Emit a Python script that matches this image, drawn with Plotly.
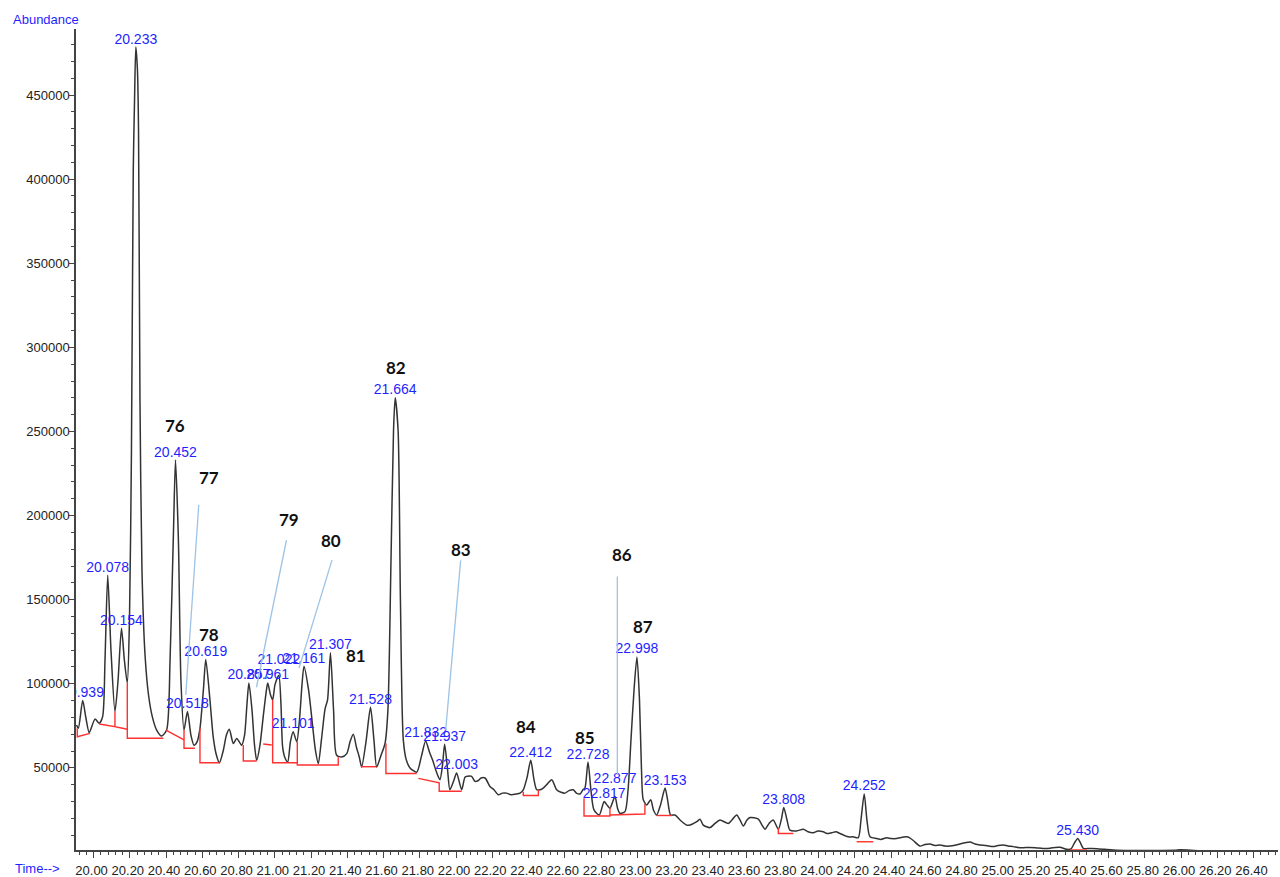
import plotly.graph_objects as go

# ---------------- data ----------------
time_min = [19.906, 19.916, 19.940, 19.958, 19.976, 20.008, 20.031, 20.050, 20.063, 20.078,
            20.096, 20.118, 20.135, 20.154, 20.170, 20.186, 20.198, 20.209, 20.219, 20.226,
            20.233, 20.242, 20.248, 20.256, 20.267, 20.284, 20.303, 20.325, 20.348, 20.376,
            20.403, 20.422, 20.441, 20.452, 20.468, 20.482, 20.499, 20.518, 20.537, 20.554,
            20.571, 20.587, 20.606, 20.619, 20.642, 20.660, 20.678, 20.694, 20.716, 20.733,
            20.749, 20.771, 20.790, 20.817, 20.833, 20.846, 20.857, 20.874, 20.888, 20.900,
            20.918, 20.937, 20.954, 20.961, 20.976, 20.988, 21.001, 21.022, 21.034, 21.043,
            21.056, 21.071, 21.086, 21.101, 21.121, 21.136, 21.150, 21.161, 21.186, 21.209,
            21.224, 21.240, 21.257, 21.277, 21.291, 21.307, 21.324, 21.341, 21.369, 21.397,
            21.415, 21.433, 21.451, 21.466, 21.479, 21.503, 21.528, 21.547, 21.562, 21.586,
            21.608, 21.624, 21.641, 21.655, 21.664, 21.680, 21.693, 21.709, 21.726, 21.746,
            21.783, 21.809, 21.832, 21.853, 21.871, 21.892, 21.911, 21.925, 21.937, 21.953,
            21.966, 21.989, 22.003, 22.031, 22.049, 22.062, 22.086, 22.104, 22.123, 22.138,
            22.160, 22.187, 22.209, 22.233, 22.256, 22.279, 22.303, 22.335, 22.353, 22.371,
            22.391, 22.412, 22.430, 22.445, 22.463, 22.481, 22.504, 22.528, 22.555, 22.579,
            22.601, 22.623, 22.647, 22.664, 22.684, 22.700, 22.711, 22.728, 22.744, 22.761,
            22.790, 22.808, 22.817, 22.836, 22.849, 22.863, 22.877, 22.891, 22.904, 22.932,
            22.949, 22.965, 22.982, 22.998, 23.012, 23.023, 23.033, 23.052, 23.074, 23.089,
            23.107, 23.128, 23.153, 23.167, 23.184, 23.208, 23.236, 23.272, 23.291, 23.328,
            23.346, 23.364, 23.401, 23.429, 23.456, 23.502, 23.522, 23.548, 23.567, 23.585,
            23.605, 23.622, 23.668, 23.688, 23.705, 23.727, 23.750, 23.778, 23.796, 23.808,
            23.826, 23.842, 23.879, 23.916, 23.942, 23.971, 23.997, 24.026, 24.047, 24.073,
            24.096, 24.118, 24.140, 24.164, 24.190, 24.219, 24.234, 24.252, 24.267, 24.284,
            24.321, 24.345, 24.376, 24.400, 24.431, 24.449, 24.486, 24.501, 24.521, 24.560,
            24.587, 24.615, 24.642, 24.670, 24.698, 24.725, 24.753, 24.780, 24.808, 24.836,
            24.863, 24.891, 24.924, 24.964, 24.990, 25.019, 25.045, 25.075, 25.100, 25.130,
            25.167, 25.204, 25.238, 25.277, 25.305, 25.332, 25.369, 25.393, 25.412, 25.430,
            25.445, 25.461, 25.498, 25.535, 25.580, 25.626, 25.718, 25.829, 25.967, 25.994,
            26.105, 26.270, 26.436, 26.535]

abundance = [75500, 73500, 90000, 79500, 71000, 79000, 76500, 80500, 114000, 164500,
             120000, 83500, 102000, 133000, 114000, 100500, 138000, 239000, 405500, 447000,
             478500, 465000, 429000, 268500, 167500, 117000, 93500, 80000, 72500, 69000,
             72500, 114000, 191500, 233000, 185500, 102000, 72500, 83500, 69500, 63500,
             65500, 73500, 96500, 114500, 90500, 68500, 57500, 53000, 60500, 69500,
             73000, 64500, 67500, 63500, 69500, 87500, 100500, 84500, 63500, 54500,
             63500, 81500, 96500, 100500, 93500, 90500, 99500, 105000, 87500, 62500,
             56000, 53500, 65500, 71500, 65500, 78500, 99500, 110500, 96500, 74500,
             60500, 52500, 66500, 85000, 90500, 118500, 84500, 57500, 56500, 58500,
             65500, 70000, 62000, 56500, 50500, 65500, 86000, 66500, 50500, 57500,
             64500, 84500, 173500, 251000, 270000, 251000, 150000, 66500, 54500, 50000,
             47500, 57000, 66000, 59500, 54500, 47500, 43000, 51500, 64000, 49000,
             37000, 43000, 47000, 37000, 44500, 45000, 45000, 42000, 42500, 44000,
             44000, 39000, 37000, 34000, 35000, 35000, 34000, 34500, 35000, 37000,
             44000, 54500, 43000, 37000, 37000, 38000, 40500, 43000, 37000, 35500,
             35000, 36500, 37000, 35000, 34500, 37000, 38000, 53500, 37000, 25000,
             22000, 27500, 30000, 27500, 26000, 29500, 33000, 26000, 23000, 24000,
             37000, 66500, 96500, 116000, 90500, 49000, 31000, 28000, 31000, 25000,
             22000, 28000, 38000, 31000, 22000, 22000, 19000, 16000, 16000, 18000,
             19500, 16000, 14500, 17000, 19000, 17000, 19000, 22000, 19000, 15500,
             19000, 20500, 19500, 16000, 13500, 17000, 19000, 13500, 20000, 26500,
             19000, 13000, 12500, 13500, 12000, 11500, 12500, 12000, 11000, 11500,
             12000, 11000, 10000, 9000, 9000, 8500, 19000, 34500, 19000, 9000,
             8000, 7500, 8500, 8000, 8000, 8500, 9000, 8500, 7000, 3500,
             4500, 4800, 3900, 4200, 3500, 3500, 4000, 4800, 5500, 6000,
             4800, 4200, 3900, 3200, 3900, 4200, 3600, 3200, 2700, 2600,
             2700, 2400, 2100, 2200, 2700, 2800, 1600, 1800, 5400, 8100,
             5400, 2200, 2100, 2000, 1600, 1200, 900, 900, 1000, 1300,
             800, 800, 700, 700]

# integration baselines (red), one list of (time, abundance) vertices per segment
baseline_segments = [
    [(19.910, 73500), (19.910, 68500), (19.980, 70500)],
    [(20.031, 76100), (20.118, 74500), (20.118, 83500), (20.118, 74500), (20.186, 73000)],
    [(20.186, 100500), (20.186, 67600), (20.385, 67600)],
    [(20.399, 72500), (20.499, 66600)],
    [(20.499, 72500), (20.499, 61650), (20.559, 61650)],
    [(20.587, 73500), (20.587, 53100), (20.694, 53100)],
    [(20.826, 63600), (20.826, 54100), (20.900, 54100)],
    [(20.936, 64200), (20.983, 63600)],
    [(20.988, 90500), (20.988, 53100), (21.124, 53100)],
    [(21.124, 65600), (21.124, 51700), (21.350, 51700), (21.350, 56300)],
    [(21.475, 50700), (21.562, 50700)],
    [(21.613, 64600), (21.613, 46700), (21.783, 46700)],
    [(21.792, 43800), (21.907, 41200), (21.907, 36100), (22.031, 36100)],
    [(22.371, 35850), (22.371, 33600), (22.454, 33600), (22.454, 36900)],
    [(22.706, 31900), (22.706, 21400), (22.849, 21400), (22.849, 26600)],
    [(22.849, 22000), (23.042, 22600), (23.042, 28500)],
    [(23.107, 21700), (23.191, 21700)],
    [(23.778, 14100), (23.778, 11000), (23.861, 11000)],
    [(24.210, 6100), (24.302, 6100)],
    [(25.387, 1200), (25.480, 1200)],
]

peak_labels = ["19.939", "20.078", "20.154", "20.233", "20.452", "20.518", "20.619",
               "20.857", "20.961", "21.022", "21.101", "21.161", "21.307", "21.528",
               "21.664", "21.832", "21.937", "22.003", "22.412", "22.728", "22.817",
               "22.877", "22.998", "23.153", "23.808", "24.252", "25.430"]
peak_heights = [90000, 164500, 133000, 478500, 233000, 83500, 114500,
                100500, 100500, 105000, 71500, 110500, 118500, 86000,
                270000, 66000, 64000, 47000, 54500, 53500, 30000,
                33000, 116000, 38000, 26500, 34500, 8100]

compound_numbers = ["76", "77", "78", "79", "80", "81", "82", "83", "84", "85", "86", "87"]
compound_peaks = ["20.452", "20.518", "20.619", "20.961", "21.161", "21.307",
                  "21.664", "21.937", "22.412", "22.728", "22.877", "22.998"]

# ---------------- styling / layout constants ----------------
W, H = 1280, 877
ML, MR, MT, MB = 76, 2, 29, 27
X_RANGE = [19.903, 26.535]
Y_RANGE = [1189, 489274]
BLUE = "#1f1fff"
FONT = "Liberation Sans, Arial, sans-serif"
plot_h = H - MT - MB
plot_w = W - ML - MR
units_per_px = (Y_RANGE[1] - Y_RANGE[0]) / plot_h

label_extra_px = {"21.022": 8, "22.877": 10}
label_base_px = 0
# compound number offsets from their peak apex (pixels, up positive)
number_offsets = {"76": (-1, 35), "77": (22, 234), "78": (3, 25), "79": (21, 163),
                  "80": (27, 126), "81": (26, -3), "82": (1, 30), "83": (16, 195),
                  "84": (-5, 34), "85": (-3, 25), "86": (7, 242), "87": (6, 30)}
# leader lines: peak -> (start offset px, end offset px), up positive
leaders = {"20.518": ((11.3, 206.7), (-1.7, 16.7)),
           "20.961": ((18.7, 142.7), (-11.3, -4.3)),
           "21.161": ((28, 106), (-5, -2)),
           "21.937": ((16, 184), (1, 14)),
           "22.877": ((2.3, 220), (2.3, 21.7))}

peak_time = {lab: float(lab) for lab in peak_labels}
peak_h = dict(zip(peak_labels, peak_heights))

fig = go.Figure()

fig.add_trace(go.Scatter(x=time_min, y=abundance, mode="lines",
                         line=dict(color="#333333", width=1.5, shape="spline",
                                   smoothing=0.7),
                         hoverinfo="skip", showlegend=False))

bx, by = [], []
for seg in baseline_segments:
    for t, a in seg:
        bx.append(t)
        by.append(a)
    bx.append(None)
    by.append(None)
fig.add_trace(go.Scatter(x=bx, y=by, mode="lines",
                         line=dict(color="#ff3030", width=1.4),
                         hoverinfo="skip", showlegend=False))

lab_y = [h + (label_base_px + label_extra_px.get(l, 0)) * units_per_px
         for l, h in zip(peak_labels, peak_heights)]
fig.add_trace(go.Scatter(x=[peak_time[l] for l in peak_labels], y=lab_y,
                         mode="text", text=peak_labels, textposition="top center",
                         textfont=dict(family=FONT, size=14, color=BLUE),
                         cliponaxis=True, hoverinfo="skip", showlegend=False))

shapes = []
for lab, ((sx, sy), (ex, ey)) in leaders.items():
    shapes.append(dict(type="line", xref="x", yref="y",
                       xsizemode="pixel", ysizemode="pixel",
                       xanchor=peak_time[lab], yanchor=peak_h[lab],
                       x0=sx, y0=sy, x1=ex, y1=ey,
                       line=dict(color="#9dc3e6", width=1.3)))

annotations = []
for num, lab in zip(compound_numbers, compound_peaks):
    dx, dy = number_offsets[num]
    annotations.append(dict(x=peak_time[lab], y=peak_h[lab], xref="x", yref="y",
                            text=f"<b>{num}</b>", showarrow=False,
                            xshift=dx, yshift=dy, xanchor="center", yanchor="middle",
                            font=dict(family="Lato, Noto Sans, sans-serif", size=17,
                                      color="#111111")))

annotations.append(dict(text="Abundance", xref="paper", yref="paper",
                        x=(11 - ML) / plot_w, y=(H - MB - 20) / plot_h,
                        xanchor="left", yanchor="middle", showarrow=False,
                        font=dict(family=FONT, size=13, color=BLUE)))
annotations.append(dict(text="Time-->", xref="paper", yref="paper",
                        x=(13 - ML) / plot_w, y=(H - MB - 869) / plot_h,
                        xanchor="left", yanchor="middle", showarrow=False,
                        font=dict(family=FONT, size=13, color=BLUE)))

axis_col = "#444444"
fig.update_layout(
    width=W, height=H,
    margin=dict(l=ML, r=MR, t=MT, b=MB, pad=0, autoexpand=False),
    paper_bgcolor="white", plot_bgcolor="white",
    showlegend=False,
    shapes=shapes, annotations=annotations,
    xaxis=dict(range=X_RANGE, tick0=20, dtick=0.2, tickformat=".2f",
               ticks="outside", ticklen=6, tickwidth=1, tickcolor=axis_col,
               showline=True, linecolor=axis_col, linewidth=1.5,
               showgrid=False, zeroline=False, automargin=False,
               ticklabelstandoff=2, ticklabelshift=-2,
               tickfont=dict(family=FONT, size=13, color="#222222"),
               minor=dict(dtick=0.04, tick0=20, ticks="outside", ticklen=3,
                          tickcolor=axis_col, showgrid=False)),
    yaxis=dict(range=Y_RANGE, tickvals=list(range(50000, 450001, 50000)),
               tickformat="d", ticks="outside", ticklen=5, tickwidth=1,
               tickcolor=axis_col, showline=True, linecolor=axis_col, linewidth=1.5,
               showgrid=False, zeroline=False, automargin=False,
               ticklabelstandoff=-3,
               tickfont=dict(family=FONT, size=13, color="#222222"),
               minor=dict(dtick=10000, tick0=0, ticks="outside", ticklen=3,
                          tickcolor=axis_col, showgrid=False)),
)

fig.write_html("out.html",
               config={"displayModeBar": False},
               post_script="document.body.style.margin='0';"
                           "document.body.style.overflow='hidden';")
